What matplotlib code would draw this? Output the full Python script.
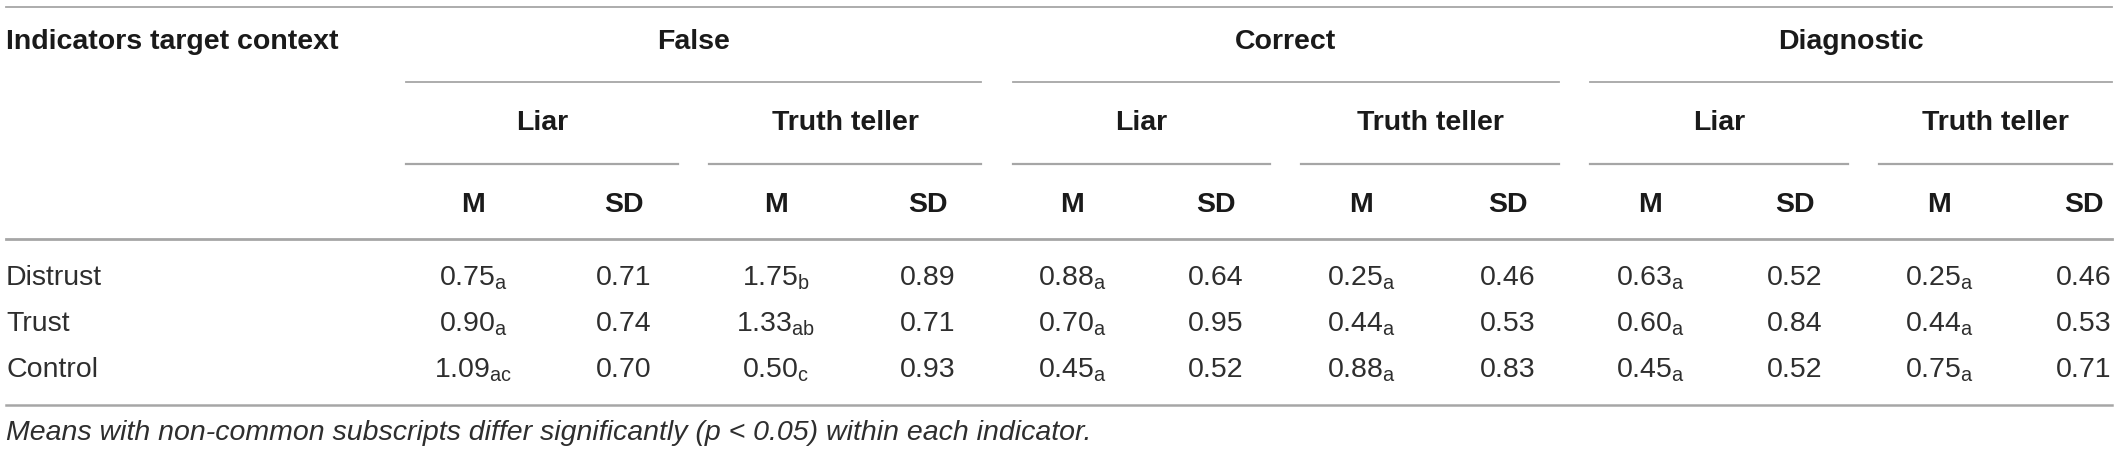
import matplotlib
matplotlib.use("Agg")
import matplotlib.pyplot as plt

# ---------------- data ----------------
rows = ["Distrust", "Trust", "Control"]
groups = ["False", "Correct", "Diagnostic"]
targets = ["Liar", "Truth teller"]
stats = ["M", "SD"]

false_liar_m = [0.75, 0.90, 1.09]
false_liar_sub = ["a", "a", "ac"]
false_liar_sd = [0.71, 0.74, 0.70]

false_tt_m = [1.75, 1.33, 0.50]
false_tt_sub = ["b", "ab", "c"]
false_tt_sd = [0.89, 0.71, 0.93]

correct_liar_m = [0.88, 0.70, 0.45]
correct_liar_sub = ["a", "a", "a"]
correct_liar_sd = [0.64, 0.95, 0.52]

correct_tt_m = [0.25, 0.44, 0.88]
correct_tt_sub = ["a", "a", "a"]
correct_tt_sd = [0.46, 0.53, 0.83]

diag_liar_m = [0.63, 0.60, 0.45]
diag_liar_sub = ["a", "a", "a"]
diag_liar_sd = [0.52, 0.84, 0.52]

diag_tt_m = [0.25, 0.44, 0.75]
diag_tt_sub = ["a", "a", "a"]
diag_tt_sd = [0.46, 0.53, 0.71]

corner_label = "Indicators target context"
footnote = "Means with non-common subscripts differ significantly (p < 0.05) within each indicator."

# ---------------- style ----------------
FAM = ["Liberation Sans", "DejaVu Sans"]
plt.rcParams["font.family"] = FAM
plt.rcParams["mathtext.fontset"] = "custom"
plt.rcParams["mathtext.rm"] = "Liberation Sans"
plt.rcParams["mathtext.it"] = "Liberation Sans:italic"
plt.rcParams["mathtext.bf"] = "Liberation Sans:bold"

W, H = 2118, 454
fig = plt.figure(figsize=(W / 100, H / 100), dpi=100)
ax = fig.add_axes([0, 0, 1, 1])
ax.set_xlim(0, W)
ax.set_ylim(H, 0)
ax.axis("off")

FS = 20.5
BOLD_C = "#1a1a1a"
TXT_C = "#2e2e2e"
LINE_C = "#a6a6a6"

# layout
left_x = 6
right_x = 2112
y_top_line = 7
y_group = 42
y_group_line = 82
y_target = 123
y_target_line = 164
y_stat = 205
y_head_line = 239
y_rows = [277, 323, 369]
y_bottom_line = 405
y_foot = 433

m_x = [473, 776, 1072, 1361, 1650, 1939]
sd_x = [624, 928, 1216, 1508, 1795, 2084]
group_spans = [(406, 981), (1013, 1559), (1590, 2112)]
target_spans = [(406, 678), (709, 981), (1013, 1270), (1301, 1559), (1590, 1848), (1879, 2112)]

# lines
ax.plot([left_x, right_x], [y_top_line] * 2, color=LINE_C, lw=1.3)
ax.plot([left_x, right_x], [y_head_line] * 2, color=LINE_C, lw=2.0)
ax.plot([left_x, right_x], [y_bottom_line] * 2, color=LINE_C, lw=1.8)
for a, b in group_spans:
    ax.plot([a, b], [y_group_line] * 2, color=LINE_C, lw=1.3)
for a, b in target_spans:
    ax.plot([a, b], [y_target_line] * 2, color=LINE_C, lw=1.6)

# headers
ax.text(left_x, y_group, corner_label, fontsize=FS, fontweight="bold",
        color=BOLD_C, ha="left", va="center")
for g, (a, b) in zip(groups, group_spans):
    ax.text((a + b) / 2, y_group, g, fontsize=FS, fontweight="bold",
            color=BOLD_C, ha="center", va="center")
for i, (a, b) in enumerate(target_spans):
    ax.text((a + b) / 2, y_target, targets[i % 2], fontsize=FS, fontweight="bold",
            color=BOLD_C, ha="center", va="center")
for i in range(6):
    ax.text(m_x[i], y_stat, stats[0], fontsize=FS, fontweight="bold",
            color=BOLD_C, ha="center", va="center")
    ax.text(sd_x[i], y_stat, stats[1], fontsize=FS, fontweight="bold",
            color=BOLD_C, ha="center", va="center")

# body
cols = [
    (false_liar_m, false_liar_sub, false_liar_sd),
    (false_tt_m, false_tt_sub, false_tt_sd),
    (correct_liar_m, correct_liar_sub, correct_liar_sd),
    (correct_tt_m, correct_tt_sub, correct_tt_sd),
    (diag_liar_m, diag_liar_sub, diag_liar_sd),
    (diag_tt_m, diag_tt_sub, diag_tt_sd),
]
for r, name in enumerate(rows):
    yb = y_rows[r] + 8
    ax.text(left_x, yb, name, fontsize=FS, color=TXT_C, ha="left", va="baseline")
    for c, (mv, sv, sdv) in enumerate(cols):
        label = f"{mv[r]:.2f}" + r"$_{\mathrm{" + sv[r] + "}}$"
        ax.text(m_x[c], yb, label, fontsize=FS, color=TXT_C, ha="center", va="baseline")
        ax.text(sd_x[c], yb, f"{sdv[r]:.2f}", fontsize=FS, color=TXT_C,
                ha="center", va="baseline")

ax.text(left_x, y_foot, footnote, fontsize=FS, color=TXT_C, style="italic",
        ha="left", va="center")

fig.savefig("out.png", dpi=100, facecolor="white")
